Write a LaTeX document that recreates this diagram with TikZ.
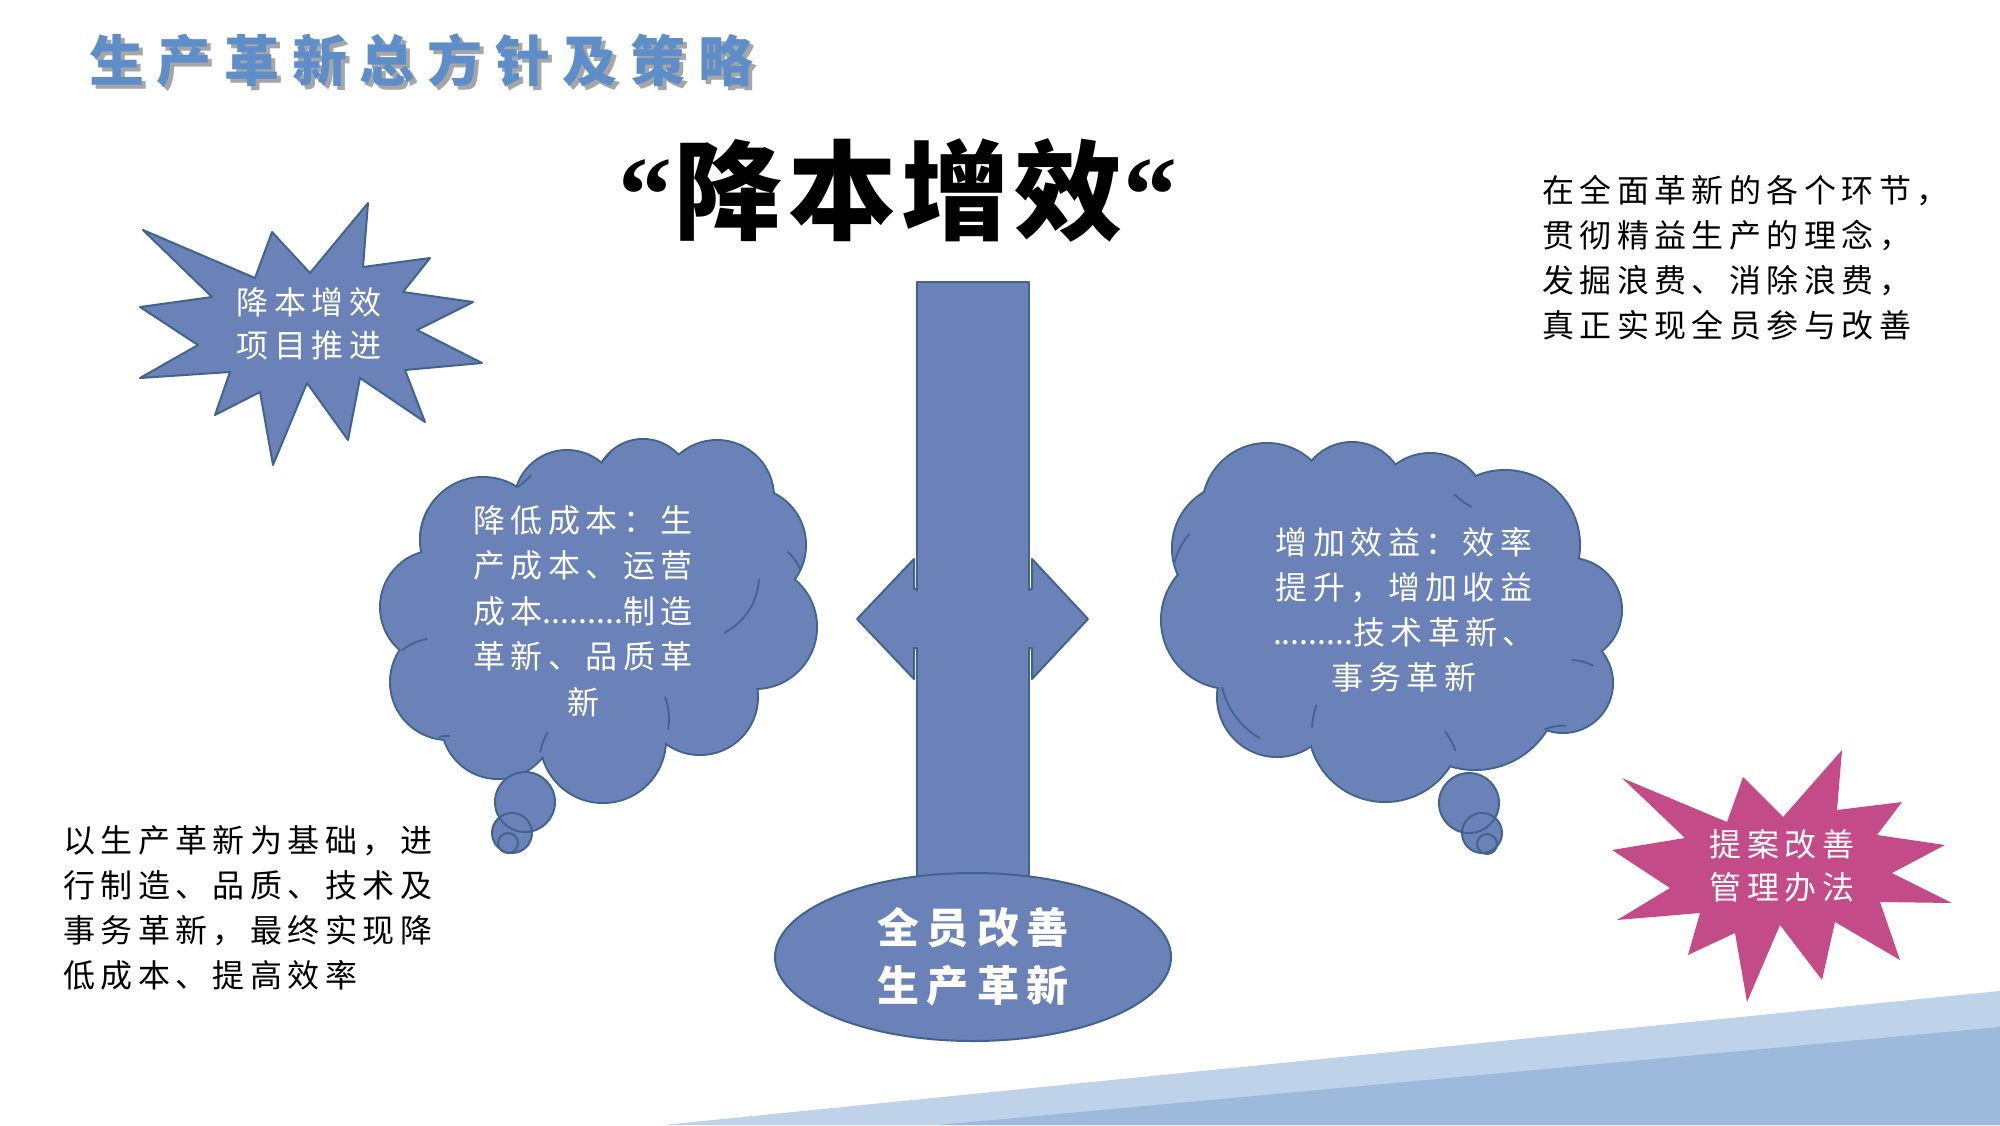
\documentclass[tikz,border=0pt]{standalone}
\usepackage{fontspec}
\usetikzlibrary{shapes.geometric}
\newfontfamily\cjk[LetterSpace=17]{Noto Sans CJK SC}
\newfontfamily\cjkplain{Noto Sans CJK SC}
\newfontfamily\cjkttl[LetterSpace=23]{Noto Sans CJK SC}
\newfontfamily\cjkell[LetterSpace=19]{Noto Sans CJK SC}
\newfontfamily\cjkbig[LetterSpace=5]{Noto Sans CJK SC}
\newfontfamily\qfont{Liberation Serif}
\definecolor{shp}{RGB}{106,130,184}
\definecolor{shpline}{RGB}{65,100,142}
\definecolor{pinkc}{RGB}{195,75,135}
\definecolor{ttlblue}{RGB}{93,142,201}
\definecolor{stripeA}{RGB}{190,210,234}
\definecolor{stripeB}{RGB}{157,186,221}
\tikzset{
  shapeborder/.style={draw=shpline, line width=2pt, line join=round},
  innerarc/.style={draw=shpline, line width=1.8pt},
  wtxt/.style={text=white, font=\cjk\fontsize{32}{43}\selectfont, align=center, inner sep=0pt},
  btxt/.style={text=black, font=\cjk\fontsize{32}{45}\selectfont, align=left, inner sep=0pt, anchor=north west},
}
\newcommand\ttltext{生产革新总方针及策略}
\begin{document}
\begin{tikzpicture}[x=1pt,y=-1pt]
\useasboundingbox (0,0) rectangle (2000,1125);
\fill[white] (0,0) rectangle (2000,1125);
% bottom stripes
\fill[stripeA] (663,1125) -- (2000,991) -- (2000,1125) -- cycle;
\fill[stripeB] (939,1125) -- (2000,1027) -- (2000,1125) -- cycle;

% title with shadow
\node[font=\cjkttl\bfseries\fontsize{55}{60}\selectfont, anchor=west, inner sep=0pt] (title) at (89,61)
  {\rlap{\smash{\hspace{4pt}\raisebox{-4pt}{\textcolor{black!35}{\ttltext}}}}\textcolor{ttlblue}{\ttltext}};

% main slogan
\node[font=\cjkbig\bfseries\fontsize{108}{115}\selectfont, inner sep=0pt] (slogan) at (898,191) {{\qfont\bfseries “}\hspace{2pt}降本增效{\qfont\bfseries “}};

% left cloud
\foreach \x/\y/\r in {483/540/63, 567/503/53, 643/487/48, 717/497/57, 748/545/58, 755/627/62, 700/697/58, 603/740/63, 498/722/57, 448/682/58, 437/607/57}
  \draw[shapeborder, fill=shp] (\x,\y) circle[radius=\r*1pt];
\foreach \x/\y/\r in {483/540/63, 567/503/53, 643/487/48, 717/497/57, 748/545/58, 755/627/62, 700/697/58, 603/740/63, 498/722/57, 448/682/58, 437/607/57, 600/620/130}
  \fill[shp] (\x,\y) circle[radius=\r*1pt-1.1pt];
% inner arcs of left cloud
\foreach \x/\y/\r/\a/\b in {483/540/63/180/152, 483/540/63/-57/-40, 567/503/53/-50/-36, 748/545/58/25/47, 695/690/64/-63/-3, 603/740/66/-9/20, 603/740/64/169/150, 448/682/54/88/100, 437/607/56/129/100}
  \draw[innerarc] (\x,\y) ++(\a:\r) arc[start angle=\a, end angle=\b, radius=\r*1pt];

% right cloud
\foreach \x/\y/\r in {1267/508/65, 1352/495/53, 1430/510/57, 1505/545/75, 1570/610/52, 1563/683/50, 1475/685/85, 1385/725/77, 1277/697/60, 1230/620/69, 1237/548/65}
  \draw[shapeborder, fill=shp] (\x,\y) circle[radius=\r*1pt];
\foreach \x/\y/\r in {1267/508/65, 1352/495/53, 1430/510/57, 1505/545/75, 1570/610/52, 1563/683/50, 1475/685/85, 1385/725/77, 1277/697/60, 1230/620/69, 1237/548/65, 1400/620/140}
  \fill[shp] (\x,\y) circle[radius=\r*1pt-1.1pt];
% inner arcs of right cloud
\foreach \x/\y/\r/\a/\b in {1300/705/80/193/240, 1237/548/64/167/138, 1385/725/75/20/37, 1385/725/73/178/160, 1563/683/50/112/86, 1570/610/50/88/62, 1505/545/72/-135/-118}
  \draw[innerarc] (\x,\y) ++(\a:\r) arc[start angle=\a, end angle=\b, radius=\r*1pt];

% thought bubbles
\foreach \x/\y/\r in {525/802/30, 512/833/20, 508/843/10, 1469/803/30, 1482/833/20, 1487/844/10}
  \fill[shp] (\x,\y) circle[radius=\r*1pt];
\foreach \x/\y/\r in {525/802/30, 512/833/20, 508/843/10, 1469/803/30, 1482/833/20, 1487/844/10}
  \draw[shapeborder] (\x,\y) circle[radius=\r*1pt];

\node[wtxt, font=\cjk\fontsize{32}{45.5}\selectfont] (costtext) at (583,611) {降低成本：生\\产成本、运营\\成本{\cjkplain .........}制造\\革新、品质革\\新};
\node[wtxt, font=\cjk\fontsize{32}{45}\selectfont] (benefittext) at (1404,610) {增加效益：效率\\提升，增加收益\\{\cjkplain .........}技术革新、\\事务革新};

% central cross arrow
\draw[shapeborder, fill=shp] (857,619) -- (914,559) -- (914,589) -- (1032,589) -- (1032,559) -- (1088,619) -- (1032,679) -- (1032,648) -- (914,648) -- (914,679) -- cycle;
\draw[shapeborder, fill=shp] (917,282) rectangle (1029,890);
\fill[shp] (916,590.5) rectangle (1030,646.5);

% base ellipse
\node[ellipse, shapeborder, fill=shp, minimum width=396pt, minimum height=168pt, inner sep=0pt, text=white, align=center, font=\cjkell\bfseries\fontsize{42}{58}\selectfont] (base) at (973,957) {全员改善\\生产革新};

% left star
\draw[shapeborder, fill=shp] (143,230) -- (255,278) -- (272,232) -- (310,273) -- (368,203) -- (363,267) -- (430,258) -- (403,292) -- (473,302) -- (417,330) -- (482,363) -- (405,370) -- (425,422) -- (360,378) -- (348,440) -- (307,383) -- (273,465) -- (260,392) -- (215,415) -- (230,372) -- (140,378) -- (198,345) -- (140,307) -- (212,297) -- cycle;
\node[wtxt] (projtext) at (309,324) {降本增效\\项目推进};

% pink star
\fill[pinkc] (1622,778) -- (1727,822) -- (1743,777) -- (1783,817) -- (1842,750) -- (1837,810) -- (1902,802) -- (1877,835) -- (1945,845) -- (1892,873) -- (1952,903) -- (1880,902) -- (1900,960) -- (1835,922) -- (1822,980) -- (1780,925) -- (1747,1002) -- (1735,933) -- (1688,955) -- (1700,913) -- (1617,920) -- (1670,888) -- (1612,850) -- (1685,838) -- cycle;
\node[wtxt] (proposaltext) at (1782,866) {提案改善\\管理办法};

% side texts
\node[btxt] (righttext) at (1542,175) {在全面革新的各个环节，\\贯彻精益生产的理念，\\发掘浪费、消除浪费，\\真正实现全员参与改善};
\node[btxt] (lefttext) at (63,825) {以生产革新为基础，进\\行制造、品质、技术及\\事务革新，最终实现降\\低成本、提高效率};
\end{tikzpicture}
\end{document}
